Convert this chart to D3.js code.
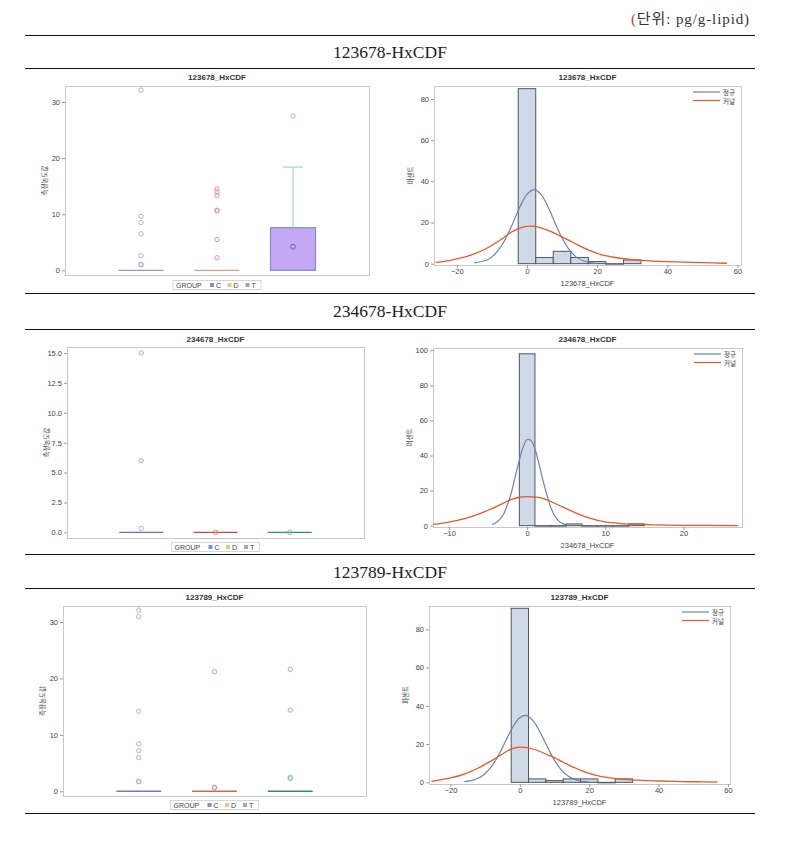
<!DOCTYPE html>
<html><head><meta charset="utf-8">
<script src="https://cdn.jsdelivr.net/npm/d3@7"></script>
<style>body{margin:0;background:#fff}</style>
</head><body><script>
// ---------------- DATA ----------------
const unitLabel = "(단위: pg/g-lipid)";
const sectionTitles = ["123678-HxCDF", "234678-HxCDF", "123789-HxCDF"];
const varNames = ["123678_HxCDF", "234678_HxCDF", "123789_HxCDF"];
const groups = ["C", "D", "T"];
const boxYLabel = "측정농도값";
const histYLabel = "퍼센트";
const legendTitle = "GROUP";
const curveNames = ["정규", "커널"];

// box stats per group: [q1, median, q3, whiskerLow, whiskerHigh]
const boxStats1 = { C: [0, 0, 0, 0, 0], D: [0, 0, 0, 0, 0], T: [0, 0, 7.6, 0, 18.4] };
const boxMeans1 = { T: 4.2 };
const outliers1 = { C: [32.1, 9.6, 8.5, 6.5, 2.6, 1.07, 1.0], D: [14.5, 14.0, 13.3, 10.7, 10.6, 5.5, 2.25], T: [27.5] };
const boxTicks1 = [0, 10, 20, 30];

const boxStats2 = { C: [0, 0, 0, 0, 0], D: [0, 0, 0, 0, 0], T: [0, 0, 0, 0, 0] };
const boxMeans2 = { D: 0, T: 0 };
const outliers2 = { C: [15.0, 6.0, 0.33], D: [], T: [] };
const boxTicks2 = [0, 2.5, 5, 7.5, 10, 12.5, 15];

const boxStats3 = { C: [0, 0, 0, 0, 0], D: [0, 0, 0, 0, 0], T: [0, 0, 0, 0, 0] };
const boxMeans3 = {};
const outliers3 = { C: [32.1, 30.95, 14.2, 8.4, 7.2, 5.97, 1.77, 1.7], D: [21.2, 0.7, 0.65], T: [21.6, 14.4, 2.48, 2.24] };
const boxTicks3 = [0, 10, 20, 30];

// histograms: bin edges and percentages
const histEdges1 = [-2.5, 2.5, 7.5, 12.5, 17.5, 22.5, 27.5, 32.5];
const histPct1 = [85, 3, 6, 3, 1, 0, 1.8];
const histTicksX1 = [-20, 0, 20, 40, 60];
const histTicksY1 = [0, 20, 40, 60, 80];
const normalX1 = [-15, -12, -10, -8, -6, -4, -2, 0, 2, 4, 6, 8, 10, 12, 14, 16, 18, 20];
const normalY1 = [0.4, 1.4, 3.3, 6.9, 12.5, 19.8, 27.6, 33.7, 36, 33.7, 27.6, 19.8, 12.5, 6.9, 3.3, 1.4, 0.5, 0.15];
const kernelX1 = [-26, -24, -20, -16, -12, -8, -4, -2, 0, 2, 4, 6, 8, 10, 12, 14, 16, 18, 20, 22, 25, 30, 35, 40, 45, 50, 57];
const kernelY1 = [0.6, 1.0, 2.3, 4.2, 7.0, 11.0, 15.8, 17.3, 18.1, 18.1, 17.4, 16.2, 14.7, 13.0, 11.3, 9.5, 7.8, 6.3, 5.0, 4.0, 3.0, 2.0, 1.4, 1.0, 0.7, 0.5, 0.2];

const histEdges2 = [-1, 1, 3, 5, 7, 9, 11, 13, 15];
const histPct2 = [98, 0, 0, 1, 0, 0, 0, 1];
const histTicksX2 = [-10, 0, 10, 20];
const histTicksY2 = [0, 20, 40, 60, 80, 100];
const normalX2 = [-4.5, -4, -3.5, -3, -2.5, -2, -1.5, -1, -0.5, 0, 0.5, 1, 1.5, 2, 2.5, 3, 3.5, 4, 4.5, 5];
const normalY2 = [0.7, 1.6, 3.6, 6.7, 12.2, 19.2, 28.5, 37.4, 45, 49.1, 48.5, 43.7, 35.5, 26.3, 18, 10.7, 5.8, 2.9, 1.3, 0.5];
const kernelX2 = [-12, -10, -8, -6, -5, -4, -2, -1, 0, 1, 2, 4, 5, 6, 8, 10, 12, 14, 16, 20, 27];
const kernelY2 = [0.7, 2.0, 4.0, 7.0, 8.8, 10.7, 15.0, 16.2, 16.6, 16.3, 15.5, 11.8, 9.7, 7.7, 4.3, 2.1, 1.2, 0.8, 0.5, 0.2, 0.05];

const histEdges3 = [-2.5, 2.5, 7.5, 12.5, 17.5, 22.5, 27.5, 32.5];
const histPct3 = [91, 1.8, 0.9, 1.8, 1.8, 0, 1.8];
const histTicksX3 = [-20, 0, 20, 40, 60];
const histTicksY3 = [0, 20, 40, 60, 80];
const normalX3 = [-16, -14, -12, -10, -8, -6, -4, -2, 0, 2, 4, 6, 8, 10, 12, 14, 16, 18, 20];
const normalY3 = [0.35, 0.9, 2.1, 4.6, 8.7, 14.7, 22, 29, 33.8, 34.9, 31.8, 25.6, 18.3, 11.5, 6.4, 3.2, 1.4, 0.5, 0.18];
const kernelX3 = [-25.5, -20, -16, -12, -8, -5, -4, -2, 0, 2, 4, 6, 8, 10, 12, 14, 16, 18, 20, 22, 25, 30, 35, 40, 45, 50, 57];
const kernelY3 = [0.5, 2.3, 4.3, 7.5, 11.5, 14.8, 16.0, 17.8, 18.4, 18.2, 17.3, 16.0, 14.4, 12.9, 11.0, 9.2, 7.5, 6.0, 4.7, 3.7, 2.6, 1.6, 1.0, 0.7, 0.45, 0.3, 0.15];

// ---------------- LAYOUT ----------------
const W = 801, H = 852;
const rules = [35, 68, 293, 329, 554, 588, 813];
const sectionTitleY = [58, 317, 578];
const boxLayout = [
  { x0: 65, x1: 369, y0: 86, y1: 275, dom: [-0.83, 32.84], titleY: 80, legY: 280, fmt: d3.format("d") },
  { x0: 67, x1: 364, y0: 347, y1: 538, dom: [-0.47, 15.5], titleY: 342, legY: 542, fmt: d3.format(".1f") },
  { x0: 63, x1: 366, y0: 606, y1: 796, dom: [-0.83, 32.84], titleY: 600, legY: 800, fmt: d3.format("d") }
];
const histLayout = [
  { x0: 434, x1: 741, y0: 86, y1: 265, xdom: [-26.5, 61], ydom: [-0.65, 86.3], titleY: 80, xlabY: 286 },
  { x0: 433, x1: 742, y0: 348, y1: 527, xdom: [-12.05, 27.5], ydom: [-0.76, 101.3], titleY: 342, xlabY: 548 },
  { x0: 429, x1: 730, y0: 606, y1: 784, xdom: [-26.2, 60.6], ydom: [-0.87, 92.2], titleY: 600, xlabY: 805 }
];
const boxColors = [
  { med: { C: "#9a96c8", D: "#dca080", T: "#7f8fd6" }, out: { C: "#aaa6cf", D: "#d98c8c", T: "#84bba8" } },
  { med: { C: "#6e6eb8", D: "#c84848", T: "#2f8f6f" }, out: { C: "#aaa6cf", D: "#d98c8c", T: "#84bba8" } },
  { med: { C: "#7a74bc", D: "#d26a4a", T: "#2f8a72" }, out: { C: "#aaa6cf", D: "#d98c8c", T: "#84bba8" } }
];
const legendSwatch = { C: "#6f9ad0", D: "#f2c080", T: "#a0a0e0" };
const FONT = "'Liberation Sans', Arial, sans-serif";
const KFONT = "'Noto Sans CJK KR', sans-serif";

const svg = d3.select("body").append("svg").attr("width", W).attr("height", H)
  .style("font-family", FONT);

// unit label
const ut = svg.append("text").attr("x", 750).attr("y", 24).attr("text-anchor", "end")
  .style("font-family", "'Liberation Serif', 'Noto Sans CJK KR', serif").style("font-size", "15px")
  .style("letter-spacing", "0.9px").attr("fill", "#333");
ut.append("tspan").attr("fill", "#b04030").text(unitLabel.slice(0, 1));
ut.append("tspan").text(unitLabel.slice(1));

// rules
svg.selectAll("line.rule").data(rules).join("line").attr("class", "rule")
  .attr("x1", 25).attr("x2", 755).attr("y1", d => d + 0.5).attr("y2", d => d + 0.5)
  .attr("stroke", "#111").attr("stroke-width", 1.1);

svg.selectAll("text.sec").data(sectionTitles).join("text").attr("class", "sec")
  .attr("x", 390).attr("y", (d, i) => sectionTitleY[i]).attr("text-anchor", "middle")
  .style("font-family", "'Liberation Serif', serif").style("font-size", "17.5px").attr("fill", "#222")
  .text(d => d);

const boxData = [
  { stats: boxStats1, means: boxMeans1, outs: outliers1, ticks: boxTicks1 },
  { stats: boxStats2, means: boxMeans2, outs: outliers2, ticks: boxTicks2 },
  { stats: boxStats3, means: boxMeans3, outs: outliers3, ticks: boxTicks3 }
];
const histData = [
  { edges: histEdges1, pct: histPct1, tx: histTicksX1, ty: histTicksY1, nx: normalX1, ny: normalY1, kx: kernelX1, ky: kernelY1 },
  { edges: histEdges2, pct: histPct2, tx: histTicksX2, ty: histTicksY2, nx: normalX2, ny: normalY2, kx: kernelX2, ky: kernelY2 },
  { edges: histEdges3, pct: histPct3, tx: histTicksX3, ty: histTicksY3, nx: normalX3, ny: normalY3, kx: kernelX3, ky: kernelY3 }
];

function styleAxis(g) {
  g.select(".domain").remove();
  g.selectAll(".tick line").attr("stroke", "#999");
  g.selectAll(".tick text").attr("fill", "#444").style("font-size", "7.5px").style("font-family", FONT);
}

// ---------------- BOX PLOTS ----------------
boxData.forEach((bd, i) => {
  const L = boxLayout[i], C = boxColors[i];
  const g = svg.append("g");
  const y = d3.scaleLinear().domain(L.dom).range([L.y1, L.y0]);
  const x = d3.scalePoint().domain(groups).range([L.x0, L.x1]).padding(1);
  const bw = (L.x1 - L.x0) * 0.148;

  g.append("text").attr("x", (L.x0 + L.x1) / 2).attr("y", L.titleY).attr("text-anchor", "middle")
    .style("font-size", "8px").style("font-weight", "bold").attr("fill", "#333").text(varNames[i]);
  g.append("rect").attr("x", L.x0 + 0.5).attr("y", L.y0 + 0.5).attr("width", L.x1 - L.x0).attr("height", L.y1 - L.y0)
    .attr("fill", "none").attr("stroke", "#c8c8c8");
  const ax = g.append("g").attr("transform", `translate(${L.x0},0)`)
    .call(d3.axisLeft(y).tickValues(bd.ticks).tickSize(3).tickPadding(2).tickFormat(L.fmt));
  styleAxis(ax);
  g.append("text").attr("transform", `translate(${L.x0 - 18},${(L.y0 + L.y1) / 2}) rotate(-90)`)
    .attr("text-anchor", "middle").style("font-size", "6.5px").style("font-family", KFONT)
    .attr("fill", "#444").text(boxYLabel);

  groups.forEach(gr => {
    const s = bd.stats[gr], cx = x(gr);
    const [q1, med, q3, lo, hi] = s;
    if (hi > q3) {
      g.append("line").attr("x1", cx).attr("x2", cx).attr("y1", y(q3)).attr("y2", y(hi)).attr("stroke", "#a8d0c8").attr("stroke-width", 1.2);
      g.append("line").attr("x1", cx - 10).attr("x2", cx + 10).attr("y1", y(hi)).attr("y2", y(hi)).attr("stroke", "#a8d0c8").attr("stroke-width", 1.2);
    }
    if (q3 > q1) {
      g.append("rect").attr("x", cx - bw / 2).attr("y", y(q3)).attr("width", bw).attr("height", y(q1) - y(q3))
        .attr("fill", "#c4a8f2").attr("stroke", C.med[gr]).attr("stroke-width", 1.2);
    }
    g.append("line").attr("x1", cx - bw / 2).attr("x2", cx + bw / 2).attr("y1", y(med)).attr("y2", y(med))
      .attr("stroke", C.med[gr]).attr("stroke-width", 1.4);
    if (bd.means[gr] !== undefined) {
      g.append("circle").attr("cx", cx).attr("cy", y(bd.means[gr])).attr("r", 2.4).attr("fill", "none")
        .attr("stroke", gr === "T" && i === 0 ? "#5a60b0" : C.out[gr]).attr("stroke-width", 0.9);
    }
    g.selectAll(null).data(bd.outs[gr]).join("circle").attr("cx", cx).attr("cy", d => y(d)).attr("r", 2.2)
      .attr("fill", "none").attr("stroke", C.out[gr]).attr("stroke-width", 0.9);
  });

  // legend
  const lc = (L.x0 + L.x1) / 2;
  const lg = g.append("g").attr("transform", `translate(${lc},${L.legY})`);
  lg.append("rect").attr("x", -44).attr("y", 0.5).attr("width", 88).attr("height", 9).attr("fill", "#fff").attr("stroke", "#ccc").attr("stroke-width", 0.8);
  lg.append("text").attr("x", -41).attr("y", 7.5).style("font-size", "7px").attr("fill", "#444").text(legendTitle);
  const offs = [-7, 10.5, 28.5];
  groups.forEach((gr, k) => {
    lg.append("rect").attr("x", offs[k]).attr("y", 3).attr("width", 4).attr("height", 4).attr("fill", legendSwatch[gr]);
    lg.append("text").attr("x", offs[k] + 6).attr("y", 7.5).style("font-size", "7px").attr("fill", "#444").text(gr);
  });
});

// ---------------- HISTOGRAMS ----------------
histData.forEach((hd, i) => {
  const L = histLayout[i];
  const g = svg.append("g");
  const x = d3.scaleLinear().domain(L.xdom).range([L.x0, L.x1]);
  const y = d3.scaleLinear().domain(L.ydom).range([L.y1, L.y0]);

  g.append("text").attr("x", (L.x0 + L.x1) / 2).attr("y", L.titleY).attr("text-anchor", "middle")
    .style("font-size", "8px").style("font-weight", "bold").attr("fill", "#333").text(varNames[i]);
  g.append("rect").attr("x", L.x0 + 0.5).attr("y", L.y0 + 0.5).attr("width", L.x1 - L.x0).attr("height", L.y1 - L.y0)
    .attr("fill", "none").attr("stroke", "#c8c8c8");
  const ay = g.append("g").attr("transform", `translate(${L.x0},0)`)
    .call(d3.axisLeft(y).tickValues(hd.ty).tickSize(3).tickPadding(2).tickFormat(d3.format("d")));
  styleAxis(ay);
  const axx = g.append("g").attr("transform", `translate(0,${L.y1})`)
    .call(d3.axisBottom(x).tickValues(hd.tx).tickSize(3).tickPadding(1).tickFormat(d3.format("d")));
  styleAxis(axx);
  g.append("text").attr("x", (L.x0 + L.x1) / 2).attr("y", L.xlabY).attr("text-anchor", "middle")
    .style("font-size", "7.5px").attr("fill", "#444").text(varNames[i]);
  g.append("text").attr("transform", `translate(${L.x0 - 21},${(L.y0 + L.y1) / 2}) rotate(-90)`)
    .attr("text-anchor", "middle").style("font-size", "6.5px").style("font-family", KFONT)
    .attr("fill", "#444").text(histYLabel);

  const bins = hd.pct.map((p, k) => ({ a: hd.edges[k], b: hd.edges[k + 1], p }));
  g.selectAll(null).data(bins).join("rect")
    .attr("x", d => x(d.a)).attr("width", d => x(d.b) - x(d.a))
    .attr("y", d => y(d.p)).attr("height", d => Math.max(0.5, y(0) - y(d.p)))
    .attr("fill", "#cfd9e8").attr("stroke", "#50565f").attr("stroke-width", 1);

  const line = d3.line().curve(d3.curveCatmullRom).x(d => x(d[0])).y(d => y(d[1]));
  g.append("path").attr("d", line(hd.nx.map((v, k) => [v, hd.ny[k]])))
    .attr("fill", "none").attr("stroke", "#6b84b0").attr("stroke-width", 1.2);
  g.append("path").attr("d", line(hd.kx.map((v, k) => [v, hd.ky[k]])))
    .attr("fill", "none").attr("stroke", "#e8582a").attr("stroke-width", 1.3);

  // legend
  const lx = L.x1 - 48, ly = L.y0 + 6;
  const cols = ["#6b84b0", "#e8582a"];
  curveNames.forEach((nm, k) => {
    g.append("line").attr("x1", lx).attr("x2", lx + 27).attr("y1", ly + k * 8.5).attr("y2", ly + k * 8.5)
      .attr("stroke", cols[k]).attr("stroke-width", 1.2);
    g.append("text").attr("x", lx + 30).attr("y", ly + k * 8.5).attr("dominant-baseline", "central")
      .style("font-size", "6.5px").style("font-family", KFONT).attr("fill", "#444").text(nm);
  });
});
</script></body></html>
